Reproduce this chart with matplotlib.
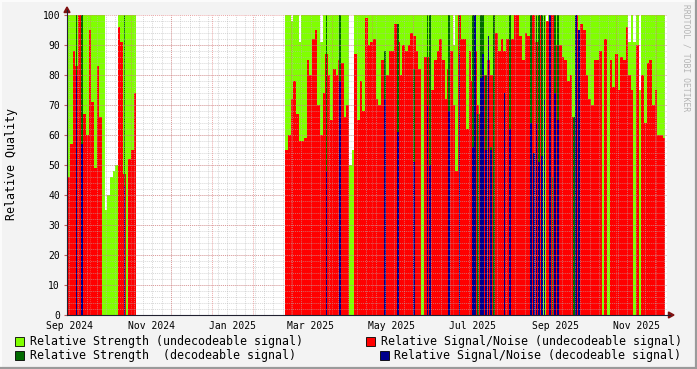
import pandas as pd
import matplotlib
matplotlib.use("Agg")
import matplotlib.pyplot as plt
import matplotlib.dates as mdates
import matplotlib.patches as mpatches
from matplotlib.lines import Line2D

plt.rcParams['font.family'] = ['DejaVu Sans Mono']

# one value every 2 days, two recording periods (gap Nov 2024 - Feb 2025)
start_1 = "2024-09-14"
strength_1 = [100, 100, 100, 100, 100, 100, 100, 100, 100, 100,
              100, 100, 100, 100, 35, 40, 46, 48, 50, 100,
              100, 100, 100, 100, 100, 100]
snr_1 = [46, 57, 88, 83, 100, 24, 67, 60, 95, 71,
         49, 83, 66, 0, 0, 0, 0, 0, 0, 96,
         91, 47, 0, 52, 55, 74]
strength_dec_1 = [0, 0, 0, 100, 0, 100, 0, 0, 0, 0,
                  0, 0, 0, 0, 0, 0, 0, 0, 0, 0,
                  0, 100, 0, 0, 0, 0]
snr_dec_1 = [0, 0, 0, 80, 0, 57, 0, 0, 0, 0,
             0, 0, 0, 0, 0, 0, 0, 0, 0, 0,
             0, 43, 0, 0, 0, 0]

start_2 = "2025-02-25"
strength_2 = [100, 100, 98, 100, 100, 91, 100, 100, 100, 100,
              100, 100, 100, 91, 100, 100, 100, 100, 100, 100,
              100, 100, 100, 100, 50, 55, 100, 100, 100, 100,
              100, 100, 100, 100, 100, 100, 100, 100, 100, 100,
              100, 100, 100, 100, 100, 100, 100, 100, 100, 100,
              100, 100, 100, 100, 100, 100, 100, 100, 100, 100,
              100, 100, 100, 90, 100, 100, 100, 100, 100, 100,
              100, 100, 100, 100, 100, 100, 100, 100, 100, 100,
              100, 100, 100, 100, 100, 100, 100, 100, 100, 100,
              100, 100, 100, 100, 100, 100, 100, 100, 93, 100,
              100, 100, 100, 100, 100, 100, 100, 100, 100, 100,
              100, 100, 100, 100, 100, 100, 100, 100, 100, 100,
              100, 100, 100, 100, 100, 100, 100, 100, 100, 91,
              100, 91, 100, 75, 100, 100, 100, 100, 100, 100,
              100, 100, 100]
snr_2 = [55, 60, 72, 78, 67, 58, 58, 59, 85, 80,
         92, 95, 70, 60, 74, 87, 80, 65, 82, 80,
         85, 84, 66, 70, 0, 0, 87, 65, 78, 68,
         99, 90, 91, 92, 72, 70, 85, 88, 80, 88,
         88, 97, 91, 80, 90, 88, 90, 94, 93, 88,
         82, 0, 86, 86, 87, 75, 85, 88, 92, 85,
         72, 82, 88, 70, 48, 100, 92, 92, 62, 88,
         78, 88, 70, 67, 80, 80, 85, 80, 0, 94,
         88, 92, 88, 92, 98, 92, 100, 100, 93, 85,
         94, 93, 90, 100, 91, 52, 100, 0, 98, 98,
         100, 70, 90, 90, 86, 85, 78, 80, 66, 100,
         91, 97, 95, 80, 72, 70, 85, 85, 88, 0,
         92, 0, 85, 76, 87, 75, 86, 85, 96, 80,
         75, 0, 90, 0, 80, 64, 84, 85, 70, 75,
         60, 60, 59]
strength_dec_2 = [0, 0, 0, 0, 0, 0, 0, 0, 0, 0,
                  0, 0, 0, 0, 0, 100, 0, 0, 0, 0,
                  100, 0, 0, 0, 0, 0, 0, 0, 0, 0,
                  0, 0, 0, 0, 0, 0, 0, 88, 0, 0,
                  0, 0, 97, 0, 0, 0, 0, 0, 82, 0,
                  0, 0, 0, 100, 100, 0, 0, 0, 0, 0,
                  0, 100, 0, 0, 0, 100, 0, 0, 0, 0,
                  100, 0, 67, 100, 100, 80, 0, 56, 100, 0,
                  0, 0, 0, 0, 100, 0, 0, 0, 0, 0,
                  0, 0, 100, 0, 100, 100, 100, 100, 0, 100,
                  46, 100, 100, 0, 0, 0, 0, 0, 66, 0,
                  0, 0, 0, 0, 0, 0, 0, 0, 0, 0,
                  0, 0, 0, 0, 0, 0, 0, 0, 0, 0,
                  0, 0, 0, 0, 0, 0, 0, 0, 0, 0,
                  0, 0, 0]
snr_dec_2 = [0, 0, 0, 0, 0, 0, 0, 0, 0, 0,
             0, 0, 0, 0, 0, 48, 0, 0, 0, 0,
             78, 0, 0, 0, 0, 0, 0, 0, 0, 0,
             0, 0, 0, 0, 0, 0, 0, 72, 0, 0,
             0, 0, 61, 0, 0, 0, 0, 0, 51, 0,
             0, 0, 0, 70, 50, 0, 0, 0, 0, 0,
             0, 68, 0, 0, 0, 87, 0, 0, 0, 0,
             56, 100, 0, 79, 87, 55, 93, 55, 0, 0,
             0, 0, 74, 0, 62, 0, 0, 0, 0, 0,
             0, 0, 64, 54, 64, 51, 53, 72, 0, 100,
             0, 74, 65, 0, 0, 0, 0, 0, 0, 100,
             95, 0, 0, 0, 0, 0, 0, 0, 0, 0,
             0, 0, 0, 0, 0, 0, 0, 0, 0, 0,
             0, 0, 0, 0, 0, 0, 0, 0, 0, 0,
             0, 0, 0]

labels = ["Relative Strength (undecodeable signal)",
          "Relative Signal/Noise (undecodeable signal)",
          "Relative Strength  (decodeable signal)",
          "Relative Signal/Noise (decodeable signal)"]
colors = ["#80FF00", "#FF0000", "#006A00", "#00008C"]

W, H = 697, 369


def fx(x):
    return x / W


def fy(y):
    return 1 - y / H


fig = plt.figure(figsize=(W / 100, H / 100), dpi=100)
fig.patch.set_facecolor("#F3F3F3")
ax = fig.add_axes([fx(67), 54 / H, 600 / W, 300 / H])
ax.set_facecolor("white")

periods = [(start_1, [strength_1, snr_1, strength_dec_1, snr_dec_1]),
           (start_2, [strength_2, snr_2, strength_dec_2, snr_dec_2])]
for start, series in periods:
    n = len(series[0])
    edges = mdates.date2num(pd.date_range(start, periods=n + 1, freq="2D"))
    mids = edges[:-1] + 1.0
    # undecodeable signal as filled steps
    for vals, c in zip(series[:2], colors[:2]):
        ax.stairs(vals, edges, fill=True, color=c, baseline=0, linewidth=0, zorder=2)
    # decodeable signal shows up as thin spikes
    for vals, c in zip(series[2:], colors[2:]):
        ax.bar(mids, vals, width=1.3, color=c, linewidth=0, zorder=2)

t0 = pd.Timestamp("2024-09-16")
left = mdates.date2num(t0 - pd.Timedelta(hours=54))
right = left + 600 / 1.329
ax.set_xlim(left, right)
ax.set_ylim(0, 100)

# rrdtool style grid on top of the data
dash = (0, (1, 1))
for d in pd.date_range("2024-09-15", "2025-12-10", freq="W-SUN"):
    ax.axvline(mdates.date2num(d), color="#B8B8B8", lw=0.7, ls=dash, alpha=0.55, zorder=3)
for y in range(2, 100, 2):
    ax.axhline(y, color="#B8B8B8", lw=0.7, ls=dash, alpha=0.55, zorder=3)
for d in pd.date_range("2024-10-01", "2025-12-01", freq="MS"):
    ax.axvline(mdates.date2num(d), color="#E07070", lw=0.7, ls=dash, alpha=0.6, zorder=3)
for y in range(10, 101, 10):
    ax.axhline(y, color="#E07070", lw=0.7, ls=dash, alpha=0.6, zorder=3)

ax.xaxis.set_major_locator(mdates.MonthLocator(bymonth=[1, 3, 5, 7, 9, 11], bymonthday=16))
ax.xaxis.set_major_formatter(mdates.DateFormatter("%b %Y"))
ax.set_yticks(range(0, 101, 10))
ax.tick_params(axis="x", length=0, pad=4, labelsize=7, colors="#000000")
ax.tick_params(axis="y", length=2, pad=3, labelsize=7, color="#C06060")
for s in ax.spines.values():
    s.set_visible(False)

# axes with arrows
axis_c = "#202030"
fig.add_artist(Line2D([fx(67), fx(67)], [fy(315), fy(10)], color=axis_c, lw=0.8))
fig.add_artist(Line2D([fx(67), fx(670)], [fy(315), fy(315)], color=axis_c, lw=0.8))
fig.add_artist(mpatches.Polygon([(fx(64), fy(12.5)), (fx(70), fy(12.5)), (fx(67), fy(7))],
                                closed=True, color="#7F1010", transform=fig.transFigure))
fig.add_artist(mpatches.Polygon([(fx(668.5), fy(312)), (fx(668.5), fy(318)), (fx(674), fy(315))],
                                closed=True, color="#7F1010", transform=fig.transFigure))

fig.text(fx(12), fy(164), "Relative Quality", rotation=90, ha="center", va="center", fontsize=8.4)
fig.text(fx(686), fy(4), "RRDTOOL / TOBI OETIKER", rotation=270, ha="center", va="top",
         fontsize=5.8, color="#B4B4B4")

# legend
entries = [(15, 341, 30), (366, 341, 381), (15, 355, 30), (380, 355, 394)]
for (bx, by, tx), lab, c in zip(entries, labels, colors):
    fig.add_artist(mpatches.Rectangle((fx(bx), fy(by + 4.5)), 9 / W, 9 / H, facecolor=c,
                                      edgecolor="black", lw=0.6, transform=fig.transFigure))
    fig.text(fx(tx), fy(by), lab, ha="left", va="center", fontsize=8.36)

# frame
fig.add_artist(Line2D([0, 1], [fy(0.5), fy(0.5)], color="#FCFCFC", lw=1.4))
fig.add_artist(Line2D([fx(0.5), fx(0.5)], [0, 1], color="#FCFCFC", lw=1.4))
fig.add_artist(Line2D([0, 1], [fy(367.5), fy(367.5)], color="#9A9A9A", lw=1.6))
fig.add_artist(Line2D([fx(695.5), fx(695.5)], [0, 1], color="#9A9A9A", lw=1.6))

fig.savefig("out.png", dpi=100, facecolor=fig.get_facecolor())
